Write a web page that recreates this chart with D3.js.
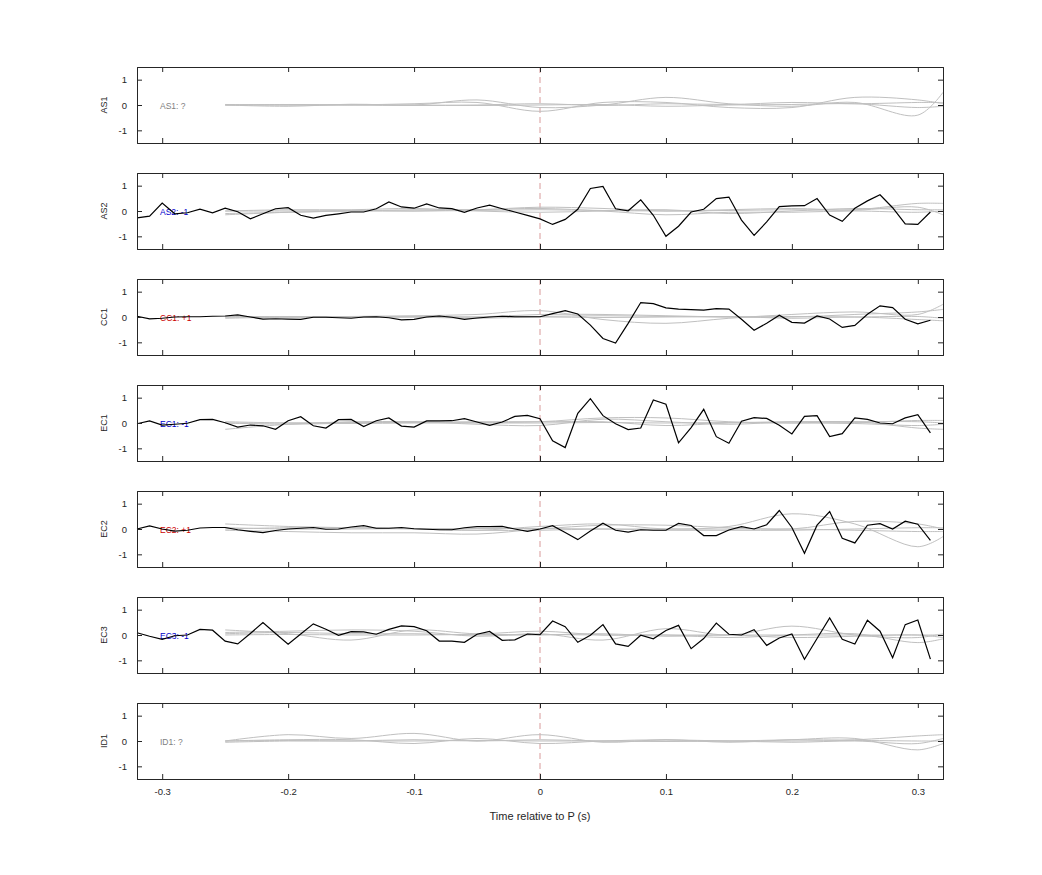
<!DOCTYPE html>
<html>
<head>
<meta charset="utf-8">
<script src="https://cdn.jsdelivr.net/npm/d3@7"></script>
<style>
  body { margin: 0; background: #fff; }
  text { font-family: "Liberation Sans", Arial, sans-serif; }
</style>
</head>
<body>
<div id="chart"></div>
<script>
// channel names and their sign labels
const channels = ["AS1", "AS2", "CC1", "EC1", "EC2", "EC3", "ID1"];
const signs = ["?", "-1", "+1", "-1", "+1", "-1", "?"];
const xTicks = [-0.3, -0.2, -0.1, 0, 0.1, 0.2, 0.3];
const yTicks = [-1, 0, 1];

// black traces, one value every 0.01 s from -0.32 to 0.31
const blackAS2 = [-0.27,-0.2,0.31,-0.11,-0.07,0.07,-0.07,0.11,-0.03,-0.31,-0.11,0.09,0.13,-0.17,-0.28,-0.17,-0.11,-0.04,-0.04,0.09,0.36,0.16,0.11,0.28,0.12,0.09,-0.05,0.12,0.23,0.09,-0.04,-0.17,-0.31,
  -0.53,-0.33,0.07,0.89,0.97,0.09,0.01,0.44,-0.17,-1.0,-0.6,-0.04,0.07,0.49,0.55,-0.36,-0.96,-0.43,0.17,0.2,0.21,0.49,-0.16,-0.41,0.11,0.4,0.64,0.13,-0.51,-0.53,-0.04];
const blackCC1 = [0.03,-0.07,-0.05,0,0.01,0.01,0.03,0.04,0.08,0,-0.08,-0.07,-0.08,-0.09,-0.01,-0.01,-0.03,-0.05,0,0.01,-0.03,-0.11,-0.09,0,0.04,-0.01,-0.09,-0.04,0,0.03,0.01,0.01,0.01,
  0.13,0.25,0.12,-0.32,-0.85,-1.03,-0.25,0.57,0.53,0.36,0.31,0.29,0.27,0.33,0.31,-0.09,-0.52,-0.25,0.07,-0.21,-0.24,0.04,-0.08,-0.41,-0.33,0.11,0.44,0.37,-0.09,-0.27,-0.13];
const blackEC1 = [-0.03,0.08,-0.08,-0.05,-0.01,0.13,0.14,0.01,-0.16,-0.08,-0.11,-0.25,0.09,0.25,-0.11,-0.2,0.13,0.14,-0.14,0.09,0.2,-0.12,-0.16,0.08,0.08,0.09,0.17,0.04,-0.09,0.04,0.26,0.3,0.17,
  -0.7,-0.97,0.38,0.96,0.29,-0.03,-0.26,-0.2,0.91,0.74,-0.78,-0.18,0.54,-0.54,-0.8,0.07,0.21,0.18,-0.09,-0.43,0.26,0.29,-0.54,-0.42,0.2,0.14,0,-0.03,0.2,0.33,-0.39];
const blackEC2 = [0,0.12,0,-0.08,-0.05,0.04,0.06,0.06,-0.03,-0.09,-0.14,-0.06,0,0.03,0.06,-0.01,0,0.08,0.13,0.03,0.03,0.06,0.01,-0.01,-0.03,-0.03,0.05,0.09,0.09,0.1,0,-0.09,0,
  0.13,-0.14,-0.42,-0.08,0.23,-0.05,-0.12,-0.03,-0.05,-0.05,0.22,0.14,-0.26,-0.26,-0.04,0.09,0,0.17,0.73,0.06,-0.96,0.15,0.69,-0.37,-0.55,0.15,0.21,0,0.31,0.19,-0.45];
const blackEC3 = [0.09,-0.05,-0.17,-0.03,0,0.22,0.19,-0.24,-0.35,0.06,0.49,0.06,-0.36,0.04,0.44,0.23,-0.01,0.13,0.12,0.03,0.22,0.36,0.33,0.17,-0.24,-0.24,-0.29,0.03,0.14,-0.21,-0.19,0.04,0.01,
  0.55,0.33,-0.29,-0.01,0.41,-0.35,-0.45,-0.01,-0.15,0.18,0.38,-0.54,-0.14,0.47,0.03,0,0.21,-0.41,-0.12,0.04,-0.96,-0.14,0.67,-0.17,-0.36,0.58,0.15,-0.9,0.41,0.59,-0.95];
const blackTimes = d3.range(64).map(i => Math.round((-0.32 + i * 0.01) * 100) / 100);
const blackTraces = [null, blackAS2, blackCC1, blackEC1, blackEC2, blackEC3, null];

// grey traces, sampled at these times
const greyTimes = [-0.25,-0.2,-0.15,-0.1,-0.05,0,0.05,0.1,0.15,0.2,0.25,0.3,0.32];
const greyAS1 = [
  [0,-0.05,0.03,0,0.2,-0.1,0,0.3,0.05,-0.05,0.1,-0.4,0.5],
  [0.02,0,0,0.05,0.1,-0.25,0.1,0.1,-0.1,-0.1,0.3,0.2,0.05],
  [0,0.02,0,-0.02,0,0.05,-0.02,0.05,0.02,0.1,0.05,0.1,0.1],
  [0,0,0.01,0,-0.02,0,0.02,-0.05,0,0.02,0.05,-0.1,-0.05]];
const greyAS2 = [
  [-0.1,-0.05,0,0.05,0.05,0.15,0.1,0,0.05,0.1,0.05,0.3,0.3],
  [0,0.05,0.05,0.1,0,-0.05,0,0.05,-0.1,0,0.1,0.05,0.05],
  [-0.15,-0.05,0,0,0.05,0.1,0,-0.15,-0.05,-0.05,0,-0.05,0],
  [0,0,0.02,0,0.02,0.05,0.02,0,0.02,0.05,0.03,0.15,-0.15]];
const greyCC1 = [
  [0,0,0.02,0.05,0.1,0.25,-0.1,-0.25,-0.05,0.1,0.2,0.1,0.5],
  [0.02,0,-0.02,0,0,0.1,0.1,0.05,0,0,0.1,0.2,0.3],
  [-0.05,0,0.02,0,-0.05,0,-0.02,0,0.02,-0.05,0,-0.1,-0.15],
  [0,0.02,0,0.02,0,0.02,0.05,0.02,0,0.02,0,0.02,-0.05]];
const greyEC1 = [
  [-0.25,-0.05,0.05,0.05,0.02,0.05,0.2,0.2,0.05,0,0.05,-0.2,-0.25],
  [0,-0.05,0,0.05,-0.05,-0.1,0.15,0.05,-0.05,0.05,0.05,0.05,0],
  [0,0,0.02,0.02,0.05,0.05,0.05,-0.1,0,0.05,0.02,0.1,0.1],
  [0.05,0,-0.02,0,0,0,0.02,0,0.02,0,-0.02,-0.1,-0.05]];
const greyEC2 = [
  [0.2,0.1,0.05,0,-0.05,0.1,0.2,0,0.1,0.6,0.2,-0.7,-0.3],
  [-0.05,-0.1,-0.15,-0.15,-0.2,0,0.15,0.15,0.05,0,0.3,0.2,0],
  [0,0.05,0.05,0.02,-0.05,-0.05,0,-0.05,-0.05,-0.05,0,0.05,0.05],
  [0.05,0,0,0.02,0.02,0.02,0,0,0,0,-0.05,-0.1,-0.1]];
const greyEC3 = [
  [0.1,0.15,0.2,0.15,-0.05,0.05,-0.2,0.25,0,0.35,0,-0.1,0.05],
  [0.2,0.05,-0.2,0.2,0.05,0.15,0,0,-0.1,0,0.05,-0.3,-0.15],
  [0.05,0.1,0.05,0.05,0,0,0.05,-0.05,0,-0.1,-0.05,0,-0.1],
  [0,0.02,0,0,0.02,0.02,0,0,0,0,0,0,0]];
const greyID1 = [
  [0,0.25,0.1,0.3,0,0.25,-0.05,0.05,-0.05,0.05,0.1,-0.35,-0.1],
  [0,0.05,0.05,-0.1,0.1,-0.1,0,0.05,0,0.05,0.05,0.2,0.25],
  [-0.05,0,0,0.05,0,0.05,0,0,0,-0.05,0,-0.1,0.1],
  [0,0.02,0,0,0.02,0,0,-0.02,0,0,0.02,0,0]];
const greyTraces = [greyAS1, greyAS2, greyCC1, greyEC1, greyEC2, greyEC3, greyID1];

const W = 1042, H = 875;
const left = 137, right = 943, top0 = 67, ph = 76, step = 106;

const svg = d3.select("#chart").append("svg").attr("width", W).attr("height", H);

const x = d3.scaleLinear().domain([-0.32, 0.32]).range([left, right]);
const signColor = s => s === "-1" ? "#0000cc" : s === "+1" ? "#cc0000" : "#808080";
const plain = d => String(d);

channels.forEach((ch, i) => {
  const top = top0 + step * i;
  const y = d3.scaleLinear().domain([-1.5, 1.5]).range([top + ph, top]);
  const g = svg.append("g");

  // dashed zero line
  g.append("line")
    .attr("x1", x(0)).attr("x2", x(0)).attr("y1", top).attr("y2", top + ph)
    .attr("stroke", "#d89a9a").attr("stroke-dasharray", "6,4").attr("stroke-width", 1);

  const gl = d3.line().x((d, k) => x(greyTimes[k])).y(d => y(d)).curve(d3.curveCatmullRom);
  greyTraces[i].forEach(s => {
    g.append("path").attr("d", gl(s)).attr("fill", "none")
      .attr("stroke", "#c0c0c0").attr("stroke-width", 1);
  });

  g.append("text").attr("x", 160).attr("y", y(0) + 3.5)
    .attr("font-size", 8.5).attr("fill", signColor(signs[i]))
    .text(ch + ": " + signs[i]);

  if (blackTraces[i]) {
    const bl = d3.line().x((d, k) => x(blackTimes[k])).y(d => y(d));
    g.append("path").attr("d", bl(blackTraces[i])).attr("fill", "none")
      .attr("stroke", "#000").attr("stroke-width", 1.2);
  }

  // axes: ticks inside, mirrored
  g.append("g").attr("transform", `translate(${left},0)`)
    .call(d3.axisLeft(y).tickValues(yTicks).tickSize(-5).tickPadding(10).tickFormat(plain));
  g.append("g").attr("transform", `translate(${right},0)`)
    .call(d3.axisRight(y).tickValues(yTicks).tickSize(-5).tickFormat(""));
  const last = i === channels.length - 1;
  g.append("g").attr("transform", `translate(0,${top + ph})`)
    .call(d3.axisBottom(x).tickValues(xTicks).tickSize(-5).tickPadding(9)
      .tickFormat(last ? plain : ""));
  g.append("g").attr("transform", `translate(0,${top})`)
    .call(d3.axisTop(x).tickValues(xTicks).tickSize(-5).tickFormat(""));
  g.selectAll(".domain").attr("stroke", "#262626");
  g.selectAll(".tick line").attr("stroke", "#262626");
  g.selectAll(".tick text").attr("font-size", 9.5).attr("fill", "#262626")
    .attr("font-family", "Liberation Sans, Arial, sans-serif");

  g.append("text")
    .attr("transform", `translate(107,${y(0)}) rotate(-90)`)
    .attr("text-anchor", "middle").attr("font-size", 9).attr("fill", "#262626")
    .text(ch);
});

svg.append("text").attr("x", x(0)).attr("y", 820).attr("text-anchor", "middle")
  .attr("font-size", 11).attr("fill", "#262626").text("Time relative to P (s)");
</script>
</body>
</html>
